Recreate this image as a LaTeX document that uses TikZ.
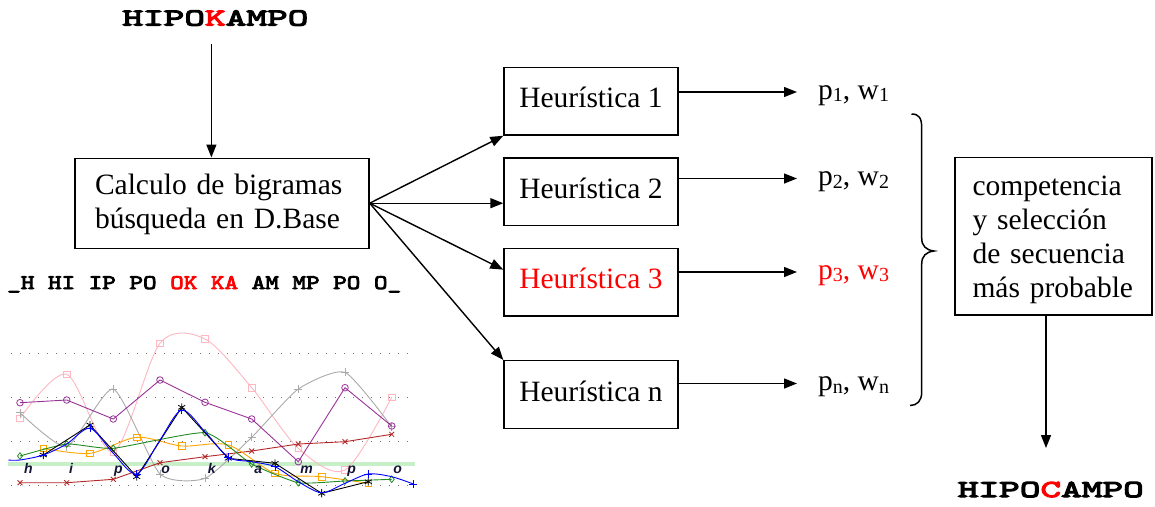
\documentclass[tikz,border=0pt]{standalone}
\usepackage{fontspec}
\setmainfont{Liberation Serif}
\newfontfamily\wordfont{lmmono10-regular.otf}[FakeBold=5,FakeStretch=1.62]
\newfontfamily\bigramfont{lmmono10-regular.otf}[FakeBold=4,FakeStretch=1.25]
\newfontfamily\chartfont{Liberation Sans}
\usetikzlibrary{arrows.meta,plotmarks}

\newcommand\mainsize{\fontsize{29.5pt}{34pt}\selectfont}
\newcommand\subidx[1]{\raisebox{-2.5pt}{\fontsize{20pt}{20pt}\selectfont #1}}

\definecolor{pinkc}{RGB}{255,182,193}
\definecolor{purplec}{RGB}{153,51,153}
\definecolor{grayc}{RGB}{170,170,170}
\definecolor{redc}{RGB}{178,40,40}
\definecolor{orangec}{RGB}{255,165,0}
\definecolor{greenc}{RGB}{34,139,34}
\definecolor{bandc}{RGB}{200,240,200}
\definecolor{letterc}{RGB}{20,20,55}

\tikzset{
  box/.style={draw, line width=1.4pt, inner sep=0pt, font=\mainsize},
  heur/.style={box, minimum width=174pt, minimum height=67.7pt, text height=21pt, text depth=8pt},
  arr/.style={line width=1.4pt, -{Triangle[length=13pt,width=10pt]}},
  plabel/.style={inner sep=0pt, anchor=west, font=\mainsize, text height=14pt, text depth=0pt},
  word/.style={inner sep=0pt, anchor=base, font={\wordfont\fontsize{24.3pt}{26pt}\selectfont}},
  series/.style={line width=0.9pt, mark options={solid, fill=white, line width=0.8pt}},
  grid line/.style={line width=1.3pt, black!55, dash pattern=on 1.3pt off 7.7pt},
  chartletter/.style={inner sep=0pt, anchor=base, text=letterc, font={\chartfont\bfseries\itshape\fontsize{14pt}{15pt}\selectfont}}
}

\begin{document}
\begin{tikzpicture}[x=1pt,y=-1pt]
\useasboundingbox (0,0) rectangle (1155,506);

% input word and the bigram step
\node[word] (w1) at (215.4,25.5) {HIPO{\color{red}K}AMPO};
\node[box, minimum width=294pt, minimum height=90pt, text width=254pt, align=left] (calc) at (222,203.2)
  {\rule{0pt}{23pt}Calculo de bigramas\\búsqueda en D.Base};
\draw[arr, shorten <=18pt] ([xshift=-4pt]w1.south) -- ([xshift=-4pt]w1.south |- calc.north);

\node[inner sep=0pt, anchor=base west, font={\bigramfont\fontsize{20.7pt}{22pt}\selectfont}] (bg) at (7,289)
  {\_H HI IP PO {\color{red}OK KA} AM MP PO O\_};

% heuristics
\node[heur] (h1) at (591,101.2) {Heurística 1};
\node[heur] (h2) at (591,191.7) {Heurística 2};
\node[heur, text=red] (h3) at (591,282.2) {Heurística 3};
\node[heur] (hn) at (591,394.5) {Heurística n};

\draw[arr] (calc.east) -- (h1.south west);
\draw[arr] (calc.east) -- (calc.east -| h2.west);
\draw[arr] (calc.east) -- ([yshift=-22pt]h3.north west);
\draw[arr] (calc.east) -- (hn.north west);

% scores of each heuristic
\node[plabel] (p1) at (818,92) {p\subidx{1}, w\subidx{1}};
\node[plabel] (p2) at (818,178.5) {p\subidx{2}, w\subidx{2}};
\node[plabel, text=red] (p3) at (818,272) {p\subidx{3}, w\subidx{3}};
\node[plabel] (pn) at (818,383.5) {p\subidx{n}, w\subidx{n}};

\draw[arr] (p1.west -| h1.east) -- ([xshift=-21pt]p1.west);
\draw[arr] (p2.west -| h2.east) -- ([xshift=-21pt]p2.west);
\draw[arr] (p3.west -| h3.east) -- ([xshift=-21pt]p3.west);
\draw[arr] (pn.west -| hn.east) -- ([xshift=-21pt]pn.west);

% brace gathering the scores
\draw[line width=1.5pt]
  (911.5,114) .. controls (919,114) and (921.7,118) .. (921.7,128)
  -- (921.7,238) .. controls (921.7,246) and (926,250) .. (934,251)
  .. controls (926,252) and (921.7,256) .. (921.7,264)
  -- (921.7,392) .. controls (921.7,401) and (917,405.5) .. (910,405.5);

% selection and output word
\node[box, minimum width=197pt, minimum height=157.7pt, text width=162pt, align=left] (comp) at (1053.5,236.2)
  {\rule{0pt}{26pt}competencia\\y selección\\de secuencia\\más probable};
\coordinate (t2) at (1046,448);
\draw[arr] ([xshift=-7.5pt]comp.south) -- (t2);
\node[word] (w2) at (1050.8,497) {HIPO{\color{red}C}AMPO};

% ---- bigram score chart ----
\foreach \yy in {353.3,397.7,441.7,485.7}
  \draw[grid line] (11,\yy) -- (413,\yy);
\fill[bandc] (8,461.5) rectangle (415,466);

\draw[series, pinkc, mark=square, mark size=3.2pt] plot[smooth, tension=0.5] coordinates
  {(20,418.3) (66.7,374.3) (113.3,451.7) (160,343.3) (205,339) (251.7,387.7) (298.3,448.3) (345,470) (391.7,397.3)};
\draw[series, grayc, mark=+, mark size=4pt] plot[smooth, tension=0.35] coordinates
  {(20,412.7) (66.7,446.7) (113.3,389) (160,474) (205,478.3) (251.7,437.3) (298.3,389) (345,372.3) (391.7,426.7)};
\draw[series, purplec, mark=o, mark size=3.3pt] plot coordinates
  {(20,402.7) (66.7,400) (113.3,419) (160,380) (205,402.3) (251.7,419) (298.3,461.7) (345,387.7) (391.7,426)};
\draw[series, redc, mark=x, mark size=3.5pt] plot coordinates
  {(20,482.7) (66.7,482.7) (113.3,479.3) (160,462.7) (205,456.7) (251.7,451) (298.3,444) (345,441.7) (391.7,434.3)};
\draw[series, orangec, mark=square, mark size=3.2pt] plot[smooth, tension=0.5] coordinates
  {(43.3,448.3) (90,453.3) (136.7,437.3) (181.7,446) (228.3,445) (275,473.3) (321.7,476.7) (368.3,483.3)};
\draw[series, greenc, mark=diamond, mark size=3.3pt] plot[smooth, tension=0.3] coordinates
  {(20,456) (66.7,444) (113.3,448.3) (205,432.7) (251.7,464) (298.3,482.7) (345,481) (391.7,479.3)};
\draw[series, black, mark=asterisk, mark size=4pt] plot coordinates
  {(43.3,455) (90,425) (136.7,476.7) (181.7,407.3) (228.3,458.3) (275,463.3) (321.7,493.3) (368.3,481.7)};
\draw[series, blue] plot[smooth, tension=0.5] coordinates
  {(8.3,460) (20,460) (43.3,455) (66.7,444) (90,428.3) (113.3,453.3) (136.7,474) (160,440) (181.7,410)
   (205,431.7) (228.3,457.3) (251.7,461.7) (275,466.7) (298.3,481.7) (321.7,492.7) (345,483.3) (368.3,474)
   (391.7,476.7) (413.3,484)};
\draw[series, blue, mark=+, mark size=4pt] plot[only marks] coordinates
  {(43.3,455) (90,428.3) (136.7,474) (181.7,410) (228.3,457.3) (275,466.7) (321.7,492.7) (368.3,474) (413.3,484)};

\foreach \xx/\ll [count=\i] in {28.3/h, 71/i, 118.3/p, 165.7/o, 211.7/k, 258.3/a, 306.7/m, 351.7/p, 397.7/o}
  \node[chartletter] (ch\i) at (\xx,473.3) {\ll};
\end{tikzpicture}
\end{document}
